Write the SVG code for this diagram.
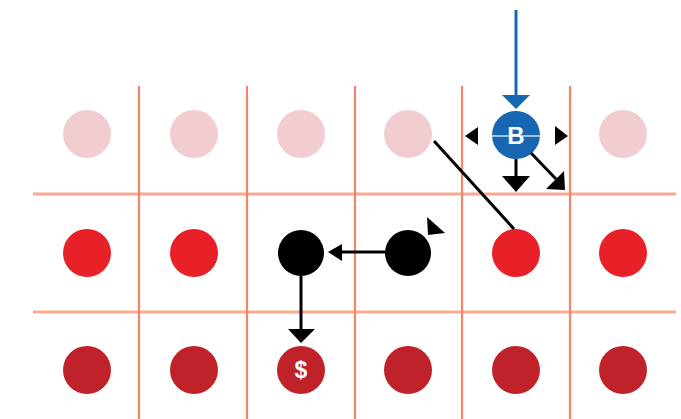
<svg xmlns="http://www.w3.org/2000/svg" width="681" height="419" viewBox="0 0 681 419">
<style>
.grid{stroke:#F58468;stroke-width:2.2;fill:none}
.hgrid{stroke:#FAA990;stroke-width:3;fill:none}
.light{fill:#F1CDD1}
.mid{fill:#E82028}
.dark{fill:#C0222A}
.blk{fill:#000}
.conn{stroke:#000;stroke-width:3;fill:none}
.head{fill:#000}
.lbl{font-family:"Liberation Sans",Arial,sans-serif;font-weight:bold;fill:#fff;text-anchor:middle}
</style>
<rect width="681" height="419" fill="#fff"/>
<g id="grid">
<line class="hgrid" x1="33" y1="194" x2="676" y2="194"/>
<line class="hgrid" x1="33" y1="312" x2="676" y2="312"/>
<line class="grid" x1="139" y1="86" x2="139" y2="419"/>
<line class="grid" x1="247" y1="86" x2="247" y2="419"/>
<line class="grid" x1="355" y1="86" x2="355" y2="419"/>
<line class="grid" x1="462" y1="86" x2="462" y2="419"/>
<line class="grid" x1="570" y1="86" x2="570" y2="419"/>
</g>
<g id="n11"><circle class="light" cx="87" cy="134" r="24"/></g>
<g id="n12"><circle class="light" cx="194" cy="134" r="24"/></g>
<g id="n13"><circle class="light" cx="301" cy="134" r="24"/></g>
<g id="n14"><circle class="light" cx="408" cy="134" r="24"/></g>
<g id="n16"><circle class="light" cx="623" cy="134" r="24"/></g>
<g id="n21"><circle class="mid" cx="87" cy="253" r="24"/></g>
<g id="n22"><circle class="mid" cx="194" cy="253" r="24"/></g>
<g id="n23"><circle class="blk" cx="301" cy="253" r="23"/></g>
<g id="n24"><circle class="blk" cx="408" cy="253" r="23"/></g>
<g id="n25"><circle class="mid" cx="516" cy="253" r="24"/></g>
<g id="n26"><circle class="mid" cx="623" cy="253" r="24"/></g>
<g id="n31"><circle class="dark" cx="87" cy="370" r="24"/></g>
<g id="n32"><circle class="dark" cx="194" cy="370" r="24"/></g>
<g id="n33"><circle class="dark" cx="301" cy="370" r="24"/><text class="lbl" x="301" y="378" font-size="23">$</text></g>
<g id="n34"><circle class="dark" cx="408" cy="370" r="24"/></g>
<g id="n35"><circle class="dark" cx="516" cy="370" r="24"/></g>
<g id="n36"><circle class="dark" cx="623" cy="370" r="24"/></g>
<g id="nB">
<circle cx="516" cy="135" r="24" fill="#1766B2"/>
<line x1="492" y1="136" x2="540" y2="136" stroke="#fff" stroke-width="1.5" opacity="0.8"/>
<text class="lbl" x="516" y="144" font-size="24">B</text>
</g>
<g id="connectors">
<line x1="516" y1="10" x2="516" y2="98" stroke="#1766B2" stroke-width="3"/>
<polygon points="502,95 530,95 516,109" fill="#1766B2"/>
<polygon class="head" points="478,127 478,145 465,136"/>
<polygon class="head" points="555,126 555,145 568,136"/>
<line class="conn" x1="516" y1="159" x2="516" y2="180"/>
<polygon class="head" points="502,176 530,176 516,192"/>
<line class="conn" x1="531" y1="153" x2="556" y2="179"/>
<polygon class="head" points="564,171 565,190 546,189"/>
<line class="conn" x1="434" y1="141" x2="514" y2="229"/>
<line class="conn" x1="385" y1="252" x2="338" y2="252"/>
<polygon class="head" points="342,244 342,261 328,252"/>
<polygon class="head" points="427,217 428,235 445,233"/>
<line class="conn" x1="301" y1="276" x2="301" y2="333"/>
<polygon class="head" points="288,329 315,329 301,343"/>
</g>
</svg>
